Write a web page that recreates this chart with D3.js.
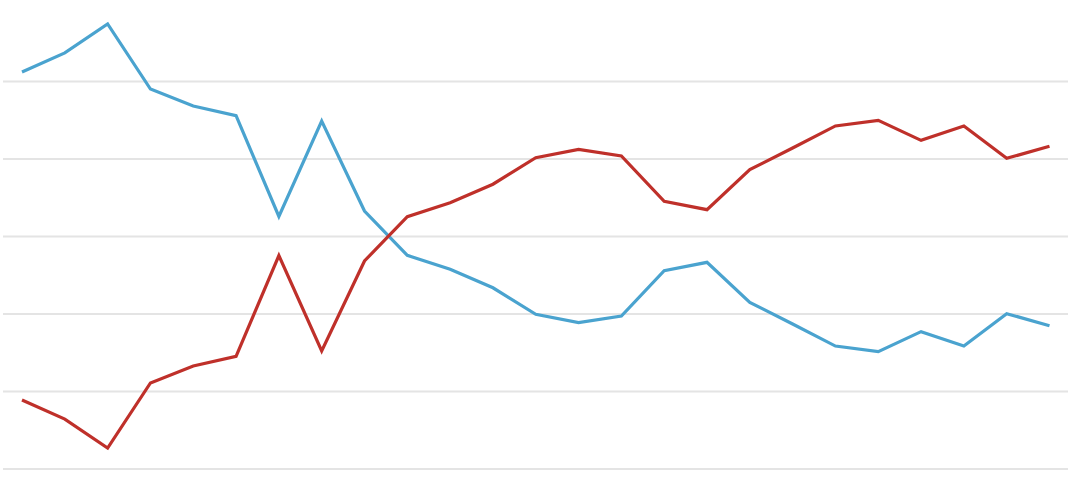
<!DOCTYPE html>
<html>
<head>
<meta charset="utf-8">
<script src="https://cdn.jsdelivr.net/npm/d3@7"></script>
<style>
  html, body { margin: 0; padding: 0; background: #fff; }
  svg { display: block; }
</style>
</head>
<body>
<svg id="chart" width="1068" height="484"></svg>
<script>
const periods = d3.range(1, 26);
const blueSeries = [60.58, 61.81, 63.68, 59.48, 58.39, 57.77, 51.26, 57.42, 51.61, 48.75,
                    47.85, 46.66, 44.95, 44.41, 44.84, 47.76, 48.30, 45.72, 44.32, 42.90,
                    42.54, 43.83, 42.90, 44.99, 44.21];
const redSeries  = [39.42, 38.19, 36.32, 40.52, 41.61, 42.23, 48.74, 42.58, 48.39, 51.25,
                    52.15, 53.34, 55.05, 55.59, 55.16, 52.24, 51.70, 54.28, 55.68, 57.10,
                    57.46, 56.17, 57.10, 55.01, 55.79];
const gridTicks = [35, 40, 45, 50, 55, 60];

const svg = d3.select("#chart");
const x = d3.scaleLinear().domain([1, 25]).range([22, 1049.5]);
const y = d3.scaleLinear().domain([35, 60]).range([468.5, 81]);

const yAxis = d3.axisLeft(y).tickValues(gridTicks).tickSize(-1065).tickFormat("");
const g = svg.append("g").attr("transform", "translate(3,0)").call(yAxis);
g.select(".domain").remove();
g.selectAll(".tick line").attr("stroke", "#e4e4e4").attr("stroke-width", 2);

const line = d3.line().x((d, i) => x(periods[i])).y(d => y(d));

svg.append("path").datum(blueSeries)
  .attr("fill", "none").attr("stroke", "#4aa3cf").attr("stroke-width", 3.2)
  .attr("stroke-linejoin", "miter").attr("d", line);
svg.append("path").datum(redSeries)
  .attr("fill", "none").attr("stroke", "#bf302a").attr("stroke-width", 3.2)
  .attr("stroke-linejoin", "miter").attr("d", line);
</script>
</body>
</html>
